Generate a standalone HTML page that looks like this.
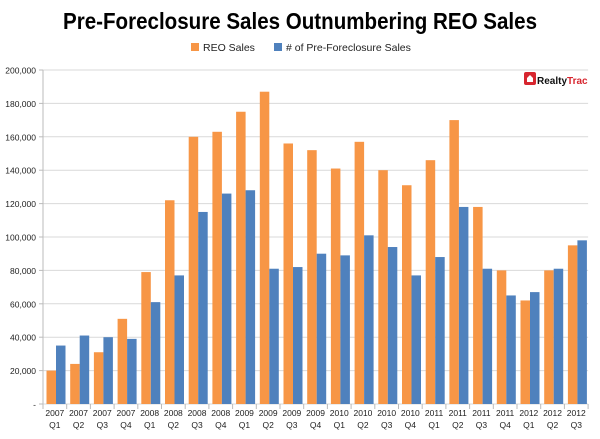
<!DOCTYPE html>
<html><head><style>
body{margin:0;background:#fff;}
</style></head><body>
<svg width="600" height="434" xmlns="http://www.w3.org/2000/svg" font-family="Liberation Sans, sans-serif">
<rect width="600" height="434" fill="#fff"/>
<text x="300" y="29" text-anchor="middle" font-size="23" font-weight="bold" fill="#000" textLength="474" lengthAdjust="spacingAndGlyphs">Pre-Foreclosure Sales Outnumbering REO Sales</text>
<rect x="191" y="43" width="8" height="8" fill="#F79646"/>
<text x="203" y="51" font-size="10.5" fill="#222">REO Sales</text>
<rect x="274" y="43" width="8" height="8" fill="#4F81BD"/>
<text x="286" y="51" font-size="10.5" fill="#222"># of Pre-Foreclosure Sales</text>
<g id="grid"></g>
<g id="bars"></g>
<g id="labels"></g>
<rect x="524" y="72" width="12" height="13" rx="2" fill="#d7262f"/>
<path d="M527 82 L527 78 L530 75 L533 78 L533 82 Z" fill="#fff"/>
<text x="537" y="84" font-size="10" font-weight="bold" fill="#111">Realty<tspan fill="#d7262f">Trac</tspan></text>
<script>
const ns="http://www.w3.org/2000/svg";
const reo=[20,24,31,51,79,122,160,163,175,187,156,152,141,157,140,131,146,170,118,80,62,80,95];
const pre=[35,41,40,39,61,77,115,126,128,81,82,90,89,101,94,77,88,118,81,65,67,81,98];
const y0=404,y1=70,x0=43,w=23.7;
const Y=v=>y0-(y0-y1)*v/200;
function el(t,a,p,txt){const e=document.createElementNS(ns,t);for(const k in a)e.setAttribute(k,a[k]);if(txt!==undefined)e.textContent=txt;document.getElementById(p).appendChild(e);}
for(let i=0;i<=10;i++){const v=i*20,y=Y(v);
 el('line',{x1:x0,x2:x0+23*w,y1:y,y2:y,stroke:'#d9d9d9','stroke-width':1},'grid');
 el('line',{x1:x0-4,x2:x0,y1:y,y2:y,stroke:'#bbb'},'grid');
 el('text',{x:36,y:y+3.5,'font-size':8.5,'text-anchor':'end',fill:'#222'},'grid',i==0?'-':(v+',000'));}
el('line',{x1:x0,x2:x0,y1:y1,y2:y0,stroke:'#bbb'},'grid');
for(let i=0;i<=23;i++)el('line',{x1:x0+i*w,x2:x0+i*w,y1:y0,y2:y0+5,stroke:'#bbb'},'grid');
const q=['Q1','Q2','Q3','Q4'];
for(let i=0;i<23;i++){const x=x0+i*w;
 el('rect',{x:x+3.5,y:Y(reo[i]),width:9.5,height:y0-Y(reo[i]),fill:'#F79646'},'bars');
 el('rect',{x:x+13,y:Y(pre[i]),width:9.5,height:y0-Y(pre[i]),fill:'#4F81BD'},'bars');
 const yr=2007+Math.floor(i/4);
 el('text',{x:x+w/2,y:416,'font-size':8.5,'text-anchor':'middle',fill:'#222'},'labels',yr);
 el('text',{x:x+w/2,y:428,'font-size':8.5,'text-anchor':'middle',fill:'#222'},'labels',q[i%4]);}
</script>
</svg>
</body></html>
